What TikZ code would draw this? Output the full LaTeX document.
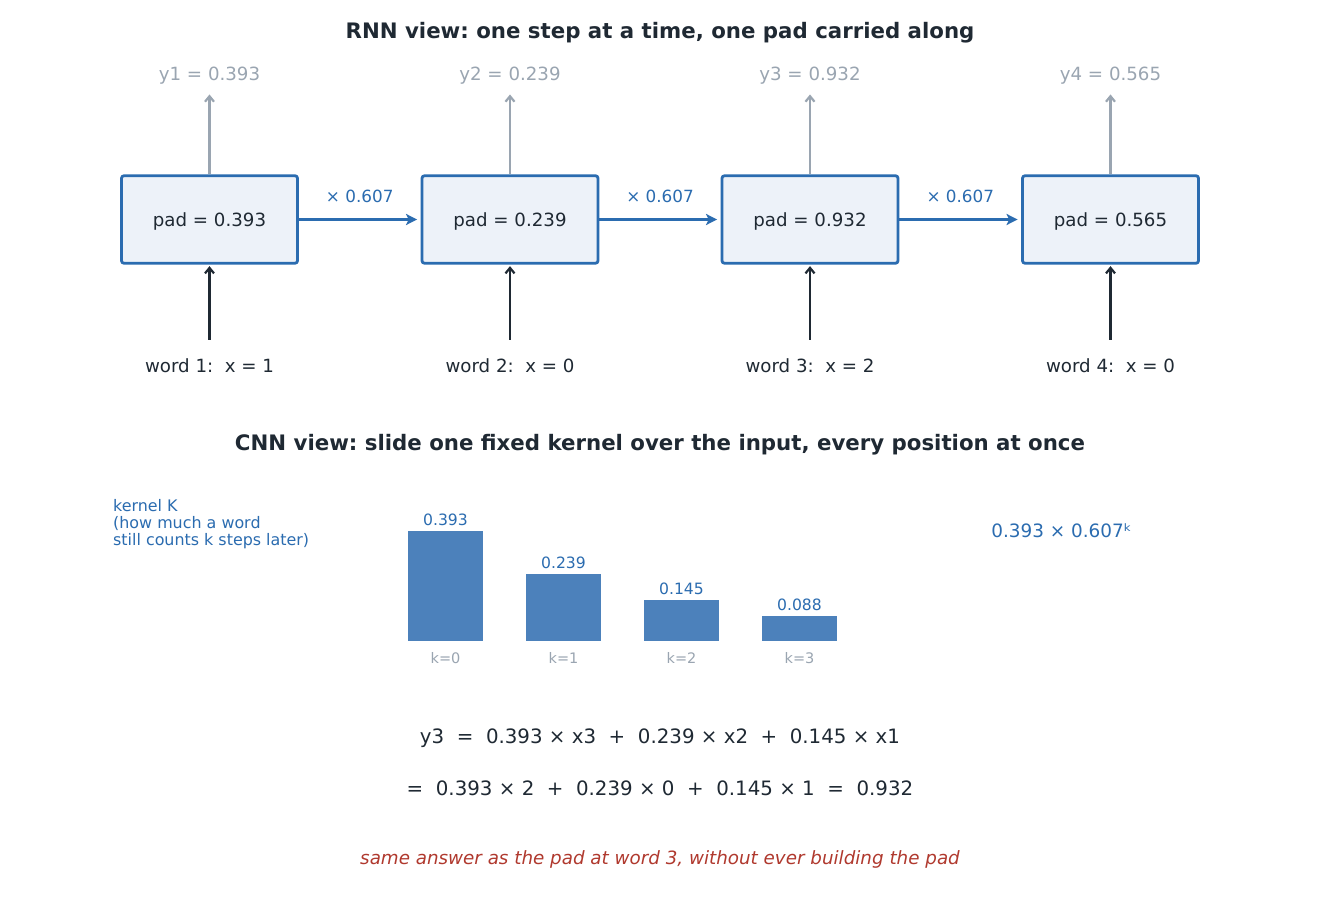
\documentclass[tikz,border=0pt]{standalone}
\usepackage{fontspec}
\setmainfont{DejaVu Sans}
\usetikzlibrary{arrows.meta}
\frenchspacing
\definecolor{ink}{HTML}{1F2933}
\definecolor{blu}{HTML}{2B6CB0}
\definecolor{boxfill}{HTML}{EDF2F9}
\definecolor{gry}{HTML}{9AA5B1}
\definecolor{barfill}{HTML}{4C81BB}
\definecolor{redt}{HTML}{B0392E}
\begin{document}
\begin{tikzpicture}[x=1pt,y=-1pt,
  padbox/.style={draw=blu, fill=boxfill, line width=2.8pt, rounded corners=2.5pt,
    minimum width=176pt, minimum height=87.5pt, inner sep=0pt,
    text height=13.3pt, text depth=0pt, text=ink, font=\fontsize{18.2}{22}\selectfont},
  titletext/.style={anchor=base, inner sep=0pt, text=ink, font=\fontsize{21.3}{25}\selectfont\bfseries},
  ylab/.style={anchor=base, inner sep=0pt, text=gry, font=\fontsize{18.2}{22}\selectfont},
  wordlab/.style={anchor=base, inner sep=0pt, text=ink, font=\fontsize{18.2}{22}\selectfont},
  multlab/.style={anchor=base, inner sep=0pt, text=blu, font=\fontsize{16.8}{20}\selectfont},
  outarrow/.style={draw=gry, line width=2.2pt, -{Straight Barb[length=5.5pt,width=9pt]}},
  inarrow/.style={draw=ink, line width=2.2pt, -{Straight Barb[length=5.5pt,width=9pt]}},
  carryarrow/.style={draw=blu, line width=2.7pt, -{Stealth[length=11pt,width=11pt,inset=2.5pt]}},
  kbar/.style={fill=barfill, draw=none},
  barval/.style={anchor=base, inner sep=0pt, text=blu, font=\fontsize{15.6}{18}\selectfont},
  klab/.style={anchor=base, inner sep=0pt, text=gry, font=\fontsize{14.5}{17}\selectfont},
  eqtext/.style={anchor=base, inner sep=0pt, text=ink, font=\fontsize{19.8}{23}\selectfont},
  notetext/.style={anchor=base, inner sep=0pt, text=redt, font=\fontsize{18.3}{22}\selectfont\itshape}
]
\useasboundingbox (0,0) rectangle (1320,901);
\fill[white] (0,0) rectangle (1320,901);

% ---------- RNN view ----------
\node[titletext] (t1) at (660,38.6) {RNN view: one step at a time, one pad carried along};

\node[padbox] (b1) at (209.5,219.5) {pad = 0.393};
\node[padbox] (b2) at (510,219.5) {pad = 0.239};
\node[padbox] (b3) at (810,219.5) {pad = 0.932};
\node[padbox] (b4) at (1110.5,219.5) {pad = 0.565};

\node[ylab] (y1) at (209.5,81) {y1 = 0.393};
\node[ylab] (y2) at (510,81) {y2 = 0.239};
\node[ylab] (y3) at (810,81) {y3 = 0.932};
\node[ylab] (y4) at (1110.5,81) {y4 = 0.565};

\node[wordlab] (w1) at (209.5,372) {word 1:~ x = 1};
\node[wordlab] (w2) at (510,372) {word 2:~ x = 0};
\node[wordlab] (w3) at (810,372) {word 3:~ x = 2};
\node[wordlab] (w4) at (1110.5,372) {word 4:~ x = 0};

\foreach \i in {1,2,3,4}{
  \draw[outarrow, shorten >=9.5pt] (b\i.north) -- (y\i.south);
  \draw[inarrow, shorten <=18pt, shorten >=1.5pt] (w\i.north) -- (b\i.south);
}

\draw[carryarrow, shorten >=3.5pt] (b1.east) -- (b2.west)
  node[multlab, midway, yshift=16.5pt] (m1) {× 0.607};
\draw[carryarrow, shorten >=3.5pt] (b2.east) -- (b3.west)
  node[multlab, midway, yshift=16.5pt] (m2) {× 0.607};
\draw[carryarrow, shorten >=3.5pt] (b3.east) -- (b4.west)
  node[multlab, midway, yshift=16.5pt] (m3) {× 0.607};

% ---------- CNN view ----------
\node[titletext] (t2) at (660,450.6) {CNN view: slide one fixed kernel over the input, every position at once};

\node[anchor=north west, inner sep=0pt, align=left, text=blu,
  font=\fontsize{15.9}{17.3}\selectfont] (klabel) at (113,499)
  {kernel K\\(how much a word\\still counts k steps later)};

\node[kbar, minimum width=75pt, minimum height=110pt, inner sep=0pt, anchor=south] (k0) at (445.5,641) {};
\node[kbar, minimum width=75pt, minimum height=66.9pt, inner sep=0pt, anchor=south] (k1) at (563.5,641) {};
\node[kbar, minimum width=75pt, minimum height=40.6pt, inner sep=0pt, anchor=south] (k2) at (681.5,641) {};
\node[kbar, minimum width=75pt, minimum height=24.6pt, inner sep=0pt, anchor=south] (k3) at (799.5,641) {};

\node[barval] (v0) at (445.5,525) {0.393};
\node[barval] (v1) at (563.5,568) {0.239};
\node[barval] (v2) at (681.5,594) {0.145};
\node[barval] (v3) at (799.5,610) {0.088};

\node[klab] (kl0) at (445.5,663.3) {k=0};
\node[klab] (kl1) at (563.5,663.3) {k=1};
\node[klab] (kl2) at (681.5,663.3) {k=2};
\node[klab] (kl3) at (799.5,663.3) {k=3};

\node[anchor=base, inner sep=0pt, text=blu, font=\fontsize{18.4}{22}\selectfont] (formula) at (1061.5,537.5) {0.393 × 0.607ᵏ};

\node[eqtext] (eq1) at (660,743) {y3~ =~ 0.393 × x3~ +~ 0.239 × x2~ +~ 0.145 × x1};
\node[eqtext] (eq2) at (660,795) {=~ 0.393 × 2~ +~ 0.239 × 0~ +~ 0.145 × 1~ =~ 0.932};

\node[notetext] (note) at (660,864) {same answer as the pad at word 3, without ever building the pad};
\end{tikzpicture}
\end{document}
